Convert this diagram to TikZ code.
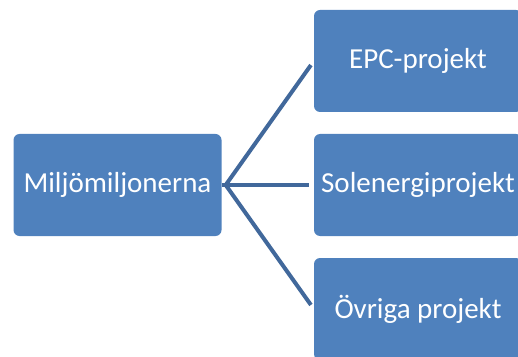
\documentclass[tikz,border=0pt]{standalone}
\usepackage{fontspec}
\setmainfont{Carlito}
\usepackage{tikz}
\usetikzlibrary{calc}
\definecolor{boxblue}{HTML}{4F81BD}
\definecolor{linkblue}{HTML}{41689B}

\begin{document}
\begin{tikzpicture}[x=1pt,y=1pt,
			item/.style={rectangle,rounded corners=6pt,fill=boxblue,text=white,
				minimum width=208pt,minimum height=102pt,inner sep=0pt,
				font=\fontsize{29}{34}\selectfont},
			link/.style={draw=linkblue,line width=4pt,line join=round,shorten >=5pt}]
			\useasboundingbox (0,0) rectangle (518,356);
			%% boxes
			\node[item] (miljo) at (117.5,171) {Miljömiljonerna};
			\node[item] (epc)   at (418,295)   {EPC-projekt};
			\node[item] (sol)   at (418,171)   {Solenergiprojekt};
			\node[item] (ovr)   at (418,47)    {Övriga projekt};
			%% fork
			\coordinate (fork) at ($(miljo.east)+(4,0)$);
			\draw[link,shorten >=0pt] (miljo.east) -- (fork);
			\draw[link] (fork) -- (epc.west);
			\draw[link] (fork) -- (sol.west);
			\draw[link] (fork) -- (ovr.west);
		\end{tikzpicture}
\end{document}
